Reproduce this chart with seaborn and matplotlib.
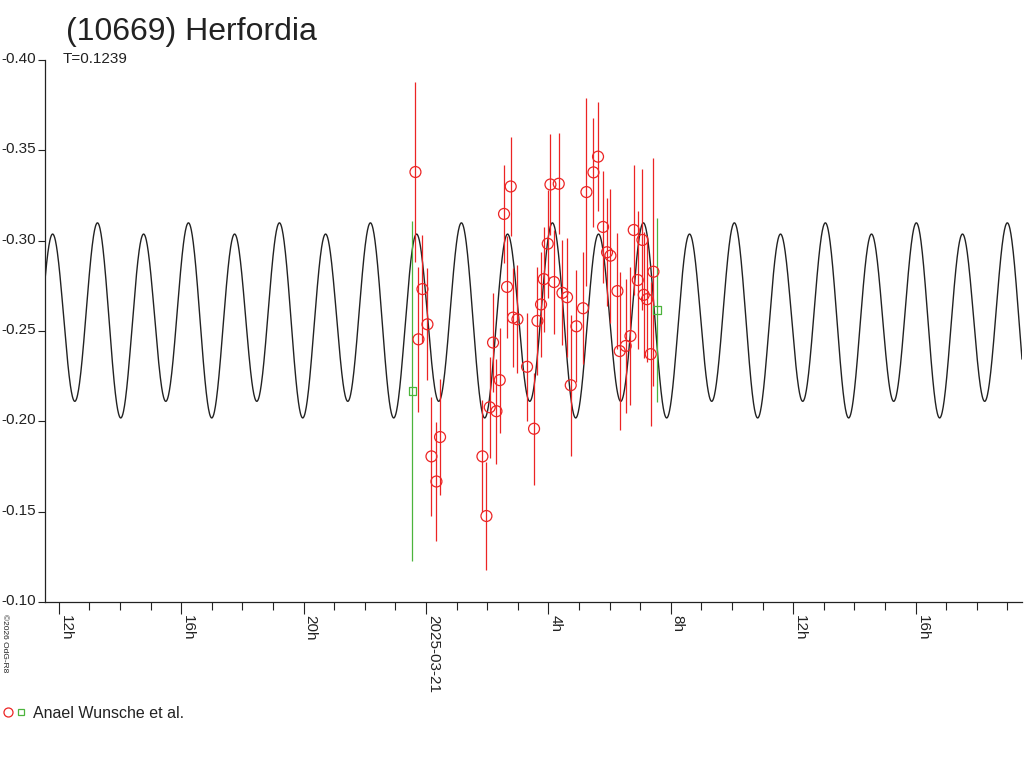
import numpy as np
import pandas as pd
import matplotlib
matplotlib.use('Agg')
import matplotlib.pyplot as plt
import seaborn as sns
from matplotlib.lines import Line2D
from matplotlib.legend_handler import HandlerTuple
from matplotlib.transforms import ScaledTranslation

sns.set_style('ticks')
plt.rcParams['font.family'] = ['Liberation Sans', 'DejaVu Sans']

# time axis: hours relative to 2025-03-21 00:00 UT
X_MIN, X_MAX = -12.45, 19.48

# red observations (Anael Wunsche et al.)
red_hours = [-0.343, -0.245, -0.114, 0.049, 0.180, 0.343, 0.461, 1.846, 1.977, 2.085,
             2.193, 2.304, 2.412, 2.552, 2.650, 2.771, 2.846, 2.990, 3.304, 3.533,
             3.644, 3.761, 3.850, 3.980, 4.069, 4.186, 4.340, 4.461, 4.611, 4.732,
             4.918, 5.134, 5.245, 5.474, 5.624, 5.788, 5.918, 6.029, 6.258, 6.333,
             6.529, 6.683, 6.791, 6.922, 7.075, 7.118, 7.225, 7.346, 7.435]
red_mag = [-0.338, -0.2454, -0.2732, -0.2537, -0.1806, -0.1667, -0.1913, -0.1806, -0.1476, -0.2078,
           -0.2436, -0.2056, -0.2228, -0.3148, -0.2744, -0.3300, -0.2574, -0.2565, -0.2302, -0.1959,
           -0.2556, -0.2647, -0.2787, -0.2983, -0.3311, -0.2771, -0.3315, -0.2711, -0.2687, -0.2200,
           -0.2526, -0.2626, -0.3269, -0.3378, -0.3465, -0.3076, -0.2936, -0.2917, -0.2721, -0.2389,
           -0.2417, -0.2472, -0.3059, -0.2782, -0.3004, -0.2700, -0.2676, -0.2372, -0.2828]
red_err = [0.050, 0.040, 0.030, 0.031, 0.033, 0.033, 0.032, 0.031, 0.030, 0.028,
           0.0275, 0.029, 0.029, 0.027, 0.028, 0.0275, 0.0275, 0.030, 0.030, 0.031,
           0.030, 0.029, 0.029, 0.030, 0.028, 0.029, 0.028, 0.029, 0.033, 0.039,
           0.031, 0.031, 0.052, 0.030, 0.030, 0.031, 0.030, 0.037, 0.032, 0.0435,
           0.037, 0.038, 0.036, 0.038, 0.039, 0.035, 0.035, 0.040, 0.063]

# green observations (same observer, other session)
green_hours = [-0.441, 7.552]
green_mag = [-0.2167, -0.2617]
green_err = [0.094, 0.051]

# lightcurve model (2-harmonic fit), period T = 0.1239 d
PERIOD_DAYS = 0.1239
EPOCH_H = -10.725
MEAN_MAG = -0.2566
AMP2 = 0.0501
AMP1_COS = -0.0031
AMP1_SIN = 0.0046

x_tick_pos = [-12, -8, -4, 0, 4, 8, 12, 16]
x_tick_lab = ['12h', '16h', '20h', '2025-03-21', '4h', '8h', '12h', '16h']
y_tick_pos = [-0.40, -0.35, -0.30, -0.25, -0.20, -0.15, -0.10]

RED = '#ec2424'
GREEN = '#4cb43c'
INK = '#222222'

period_h = PERIOD_DAYS * 24
t = np.linspace(X_MIN, X_MAX, 3000)
ph = 2 * np.pi * (t - EPOCH_H) / period_h
model = pd.DataFrame({'t': t,
                      'mag': MEAN_MAG - AMP2 * np.cos(2 * ph) + AMP1_COS * np.cos(ph) + AMP1_SIN * np.sin(ph)})
df_red = pd.DataFrame({'t': red_hours, 'mag': red_mag, 'err': red_err})
df_green = pd.DataFrame({'t': green_hours, 'mag': green_mag, 'err': green_err})

fig = plt.figure(figsize=(10.24, 7.68), dpi=100)
ax = fig.add_axes([45 / 1024, 166 / 768, 977 / 1024, 542 / 768])

sns.lineplot(data=model, x='t', y='mag', color=INK, linewidth=1.0, ax=ax, sort=False)

ax.errorbar(df_red['t'], df_red['mag'], yerr=df_red['err'], fmt='none', ecolor=RED, elinewidth=0.9, capsize=0)
ax.errorbar(df_green['t'], df_green['mag'], yerr=df_green['err'], fmt='none', ecolor=GREEN, elinewidth=0.9, capsize=0)
sns.scatterplot(data=df_red, x='t', y='mag', marker='o', s=62, facecolors='none', edgecolor=RED,
                linewidth=0.9, ax=ax, zorder=4)
sns.scatterplot(data=df_green, x='t', y='mag', marker='s', s=28, facecolors='none', edgecolor=GREEN,
                linewidth=0.9, ax=ax, zorder=4)

ax.set_xlim(X_MIN, X_MAX)
ax.set_ylim(-0.10, -0.40)
ax.set_xlabel('')
ax.set_ylabel('')

for s in ['top', 'right']:
    ax.spines[s].set_visible(False)
for s in ['left', 'bottom']:
    ax.spines[s].set_color(INK)
    ax.spines[s].set_linewidth(0.9)

ax.set_yticks(y_tick_pos)
ax.set_yticklabels([f'{v:.2f}' for v in y_tick_pos], fontsize=11, color=INK)
ax.tick_params(axis='y', length=5, width=0.8, color=INK, pad=1.2)
for lab in ax.get_yticklabels():
    lab.set_transform(lab.get_transform() + ScaledTranslation(0, 0.025, fig.dpi_scale_trans))

ax.set_xticks(x_tick_pos)
ax.set_xticks(np.arange(-12, 20, 1), minor=True)
ax.set_xticklabels(x_tick_lab, rotation=270, ha='left', va='top', fontsize=11, color=INK)
ax.tick_params(axis='x', which='major', length=8.5, width=0.8, color=INK, pad=1)
ax.tick_params(axis='x', which='minor', length=6, width=0.8, color=INK)

fig.text(66 / 1024, 1 - 40 / 768, '(10669) Herfordia', fontsize=23, color=INK, va='baseline')
fig.text(63 / 1024, 1 - 63 / 768, f'T={PERIOD_DAYS}', fontsize=11, color=INK, va='baseline')
fig.text(1 / 1024, 1 - 614 / 768, '©2026 OdG-R8', fontsize=6, rotation=270, ha='left', va='top', color=INK)

h_circ = Line2D([], [], marker='o', linestyle='none', markersize=6.5, markerfacecolor='none',
                markeredgecolor=RED, markeredgewidth=0.9)
h_sq = Line2D([], [], marker='s', linestyle='none', markersize=4.5, markerfacecolor='none',
              markeredgecolor=GREEN, markeredgewidth=0.9)
fig.legend(handles=[(h_circ, h_sq)], labels=['Anael Wunsche et al.'],
           handler_map={tuple: HandlerTuple(ndivide=None, pad=0.2)},
           loc='center left', bbox_to_anchor=(3 / 1024, 1 - 713 / 768), frameon=False,
           fontsize=11.5, handlelength=1.4, handletextpad=0.5, borderpad=0, borderaxespad=0,
           labelcolor=INK)

fig.savefig('out.png', dpi=100)
